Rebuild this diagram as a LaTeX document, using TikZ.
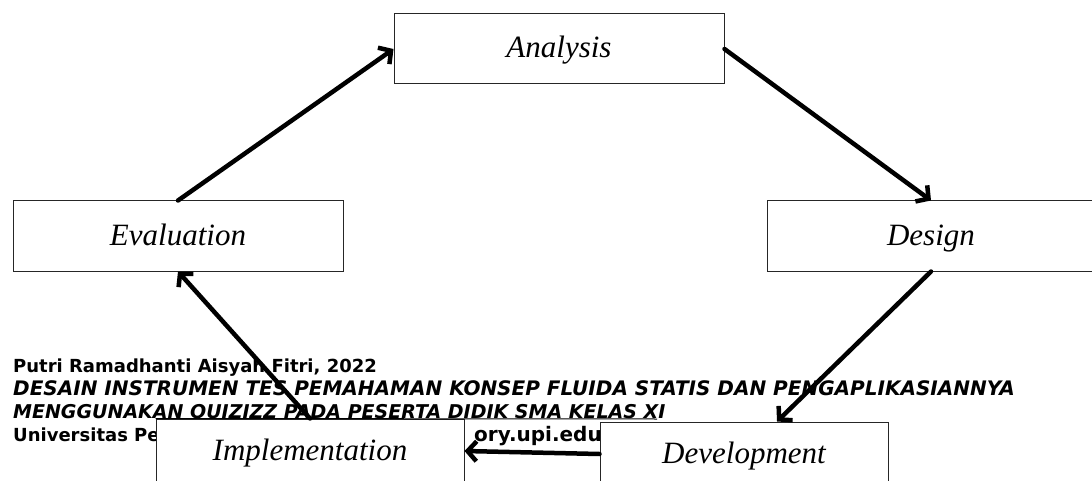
\documentclass[tikz,border=0pt]{standalone}
\usepackage{fontspec}
\setmainfont{Liberation Serif}
\newfontfamily\footfont{DejaVu Sans}
\usetikzlibrary{arrows.meta}

\tikzset{
	stage/.style={draw=black!85, line width=1pt, fill=white, inner sep=0pt,
		text height=25pt, text depth=7pt,
		font=\fontsize{31}{36}\selectfont\itshape},
	flow/.style={line width=4.5pt, line cap=round, -{Straight Barb[length=9pt,width=20pt]}},
	footline/.style={anchor=base west, inner sep=0pt,
		font=\footfont\bfseries\fontsize{18}{22}\selectfont},
	footital/.style={footline, font=\footfont\bfseries\itshape\fontsize{20}{22}\selectfont}
}

\begin{document}
\begin{tikzpicture}[x=1pt,y=1pt,yscale=-1,xscale=1]
	\useasboundingbox (0,0) rectangle (1092,481);

	% Text Node (page footer)
	\node [footline] (ftname) at (13,372) {Putri Ramadhanti Aisyah Fitri, 2022};
	% Text Node
	\node [footital] (fttitle) at (13,395) {DESAIN INSTRUMEN TES PEMAHAMAN KONSEP FLUIDA STATIS DAN PENGAPLIKASIANNYA};
	% Text Node
	\node [footital, font=\footfont\bfseries\itshape\fontsize{19}{22}\selectfont] (fttitleb) at (13,418) {MENGGUNAKAN QUIZIZZ PADA PESERTA DIDIK SMA KELAS XI};
	% Text Node
	\node [footline] (ftuniv) at (13,441) {Universitas Pe};
	% Text Node
	\node [footline, font=\footfont\bfseries\fontsize{20}{22}\selectfont] (ftrepo) at (474,441) {ory.upi.edu};

	% Stages
	\node [stage, minimum width=330, minimum height=70] (ana) at (559,49) {Analysis};
	\node [stage, minimum width=330, minimum height=70] (eva) at (178,236) {Evaluation};
	\node [stage, minimum width=328, minimum height=70] (des) at (931,236) {Design};
	\node [stage, minimum width=308, minimum height=64] (imp) at (310,451) {Implementation};
	\node [stage, minimum width=288, minimum height=64] (dev) at (744,454) {Development};

	%Straight Lines
	\coordinate (ruleend) at (657,419);
	\draw [line width=1pt] (imp.north west) -- (ruleend);

	% Arrows
	\draw [flow] (eva.north) -- (ana.west);
	\draw [flow] (ana.east) -- (des.north);
	\draw [flow] (des.south) -- ([xshift=33]dev.north);
	\draw [flow] (dev.west) -- (imp.east);
	\draw [flow] (imp.north) -- (eva.south);

\end{tikzpicture}
\end{document}
